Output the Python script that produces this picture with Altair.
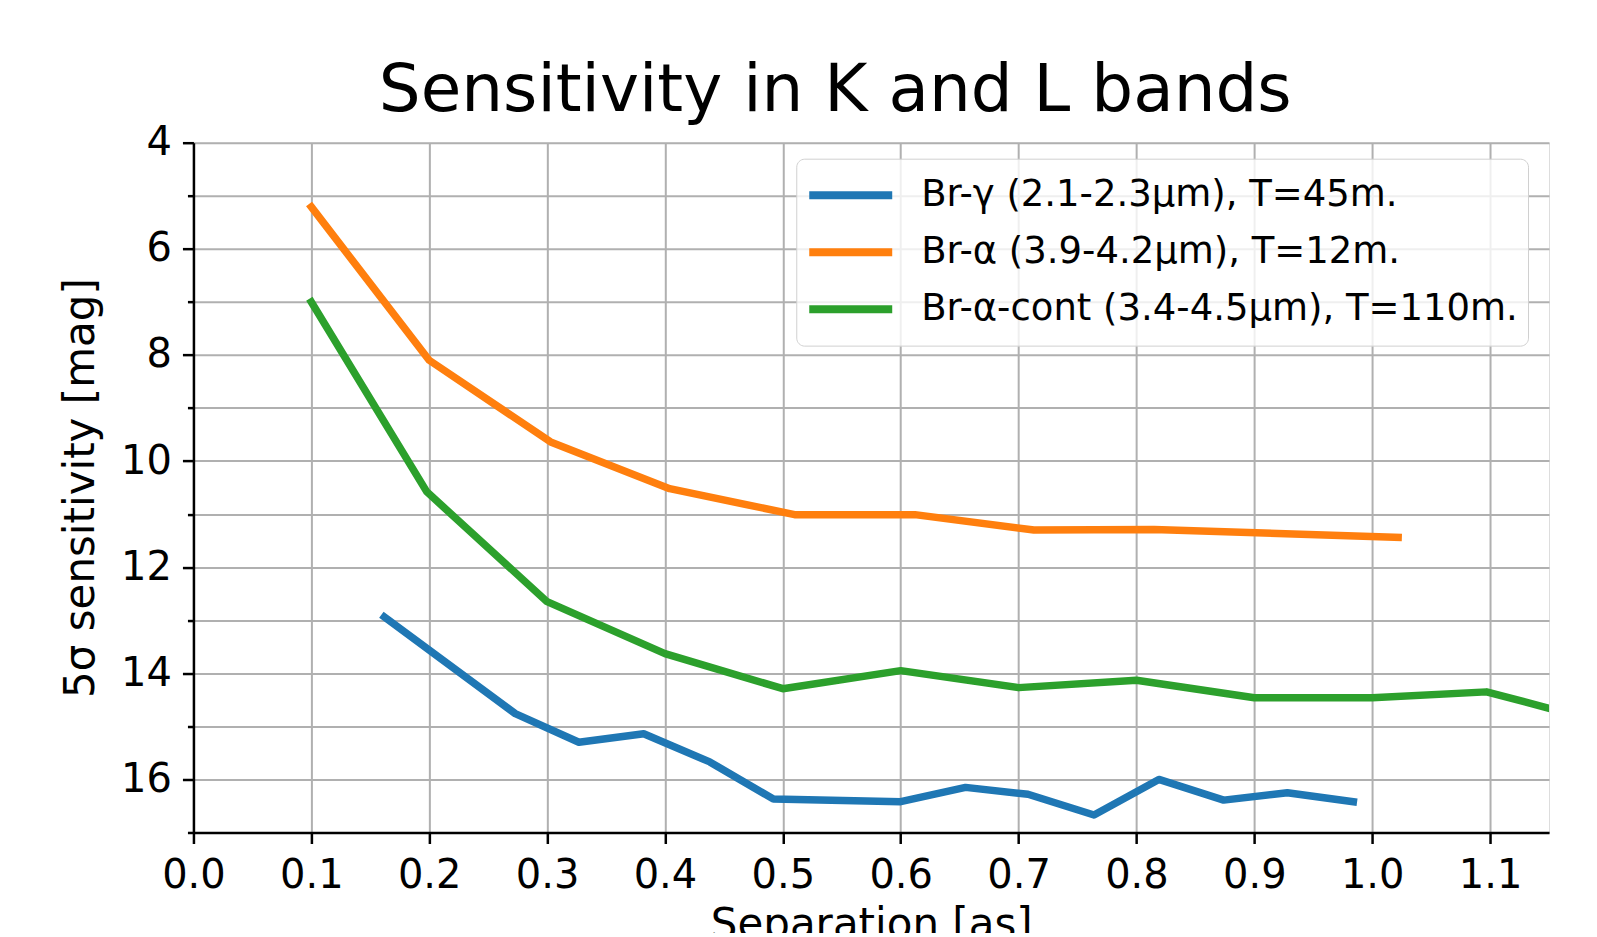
import altair as alt
import pandas as pd

# Series labels
series_names = [
    "Br-γ (2.1-2.3μm), T=45m.",
    "Br-α (3.9-4.2μm), T=12m.",
    "Br-α-cont (3.4-4.5μm), T=110m.",
]
series_colors = ["#1f77b4", "#ff7f0e", "#2ca02c"]

# Br-gamma
gamma_x = [0.162, 0.273, 0.327, 0.382, 0.438, 0.492, 0.600, 0.655, 0.708, 0.764, 0.819, 0.874, 0.928, 0.984]
gamma_y = [12.94, 14.76, 15.30, 15.14, 15.67, 16.37, 16.42, 16.15, 16.28, 16.67, 16.00, 16.39, 16.25, 16.42]

# Br-alpha
alpha_x = [0.100, 0.200, 0.303, 0.404, 0.510, 0.612, 0.713, 0.815, 1.022]
alpha_y = [5.21, 8.10, 9.64, 10.52, 11.01, 11.01, 11.30, 11.29, 11.44]

# Br-alpha-cont
cont_x = [0.100, 0.198, 0.300, 0.400, 0.500, 0.600, 0.700, 0.800, 0.900, 1.000, 1.097, 1.200]
cont_y = [7.00, 10.58, 12.65, 13.63, 14.29, 13.95, 14.27, 14.13, 14.46, 14.46, 14.35, 14.95]

x_ticks = [0.0, 0.1, 0.2, 0.3, 0.4, 0.5, 0.6, 0.7, 0.8, 0.9, 1.0, 1.1]
y_ticks = list(range(4, 18))

rows = []
for name, xs, ys in zip(series_names, [gamma_x, alpha_x, cont_x], [gamma_y, alpha_y, cont_y]):
    for i, (a, b) in enumerate(zip(xs, ys)):
        rows.append({"series": name, "sep": a, "mag": b, "order": i})
df = pd.DataFrame(rows)

FONT = "DejaVu Sans"

chart = alt.Chart(df).mark_line(
    strokeWidth=7.5, clip=True, strokeCap="square", strokeJoin="round"
).encode(
    x=alt.X(
        "sep:Q",
        scale=alt.Scale(domain=[0, 1.15], nice=False, zero=False),
        axis=alt.Axis(
            title="Separation [as]",
            values=x_ticks,
            format=".1f",
            grid=True,
            gridColor="#b0b0b0",
            gridWidth=2,
            domainColor="black",
            domainWidth=2.5,
            tickColor="black",
            tickWidth=2.5,
            tickSize=11,
            labelFontSize=40,
            labelFont=FONT,
            labelColor="black",
            labelPadding=12,
            labelFlush=False,
            titleFont=FONT,
            titleFontSize=42,
            titleFontWeight="normal",
            titleColor="black",
            titleBaseline="alphabetic",
            titleY=105,
        ),
    ),
    y=alt.Y(
        "mag:Q",
        scale=alt.Scale(domain=[4, 17], reverse=True, nice=False, zero=False),
        axis=alt.Axis(
            title="5σ sensitivity [mag]",
            values=y_ticks,
            labelExpr="datum.value % 2 == 0 ? datum.label : ''",
            grid=True,
            gridColor="#b0b0b0",
            gridWidth=2,
            domainColor="black",
            domainWidth=2.5,
            tickColor="black",
            tickWidth=2.5,
            tickSize={"condition": {"test": "datum.value % 2 == 1", "value": 6}, "value": 11},
            labelFontSize=40,
            labelFont=FONT,
            labelColor="black",
            labelPadding=11,
            labelFlush=False,
            titleFont=FONT,
            titleFontSize=42,
            titleFontWeight="normal",
            titleColor="black",
            titleAngle=270,
            titleBaseline="alphabetic",
            titleAlign="center",
            titleX=-100,
            titleY=345,
        ),
    ),
    color=alt.Color(
        "series:N",
        scale=alt.Scale(domain=series_names, range=series_colors),
        sort=series_names,
        legend=alt.Legend(
            orient="none",
            legendX=603,
            legendY=16,
            title=None,
            symbolType="stroke",
            symbolSize=6889,
            symbolStrokeWidth=8,
            labelFontSize=37,
            labelFont=FONT,
            labelColor="black",
            labelOffset=25,
            labelLimit=1200,
            padding=9,
            clipHeight=55,
            rowPadding=2,
            strokeColor="#d0d0d0",
            fillColor="rgba(255,255,255,0.8)",
            cornerRadius=8,
        ),
    ),
    order="order:Q",
).properties(
    width=1356,
    height=690,
    title=alt.Title(
        "Sensitivity in K and L bands",
        font=FONT,
        fontSize=66,
        fontWeight="normal",
        color="black",
        anchor="middle",
        baseline="alphabetic",
        offset=30,
        dx=-36,
        dy=84,
    ),
    autosize=alt.AutoSizeParams(type="none"),
    padding={"left": 185.5, "top": 134.6, "right": 40, "bottom": 100},
).configure_view(
    stroke="black", strokeWidth=2.5
).configure(background="white")

chart.save("out.html", embed_options={"renderer": "svg", "actions": False})
